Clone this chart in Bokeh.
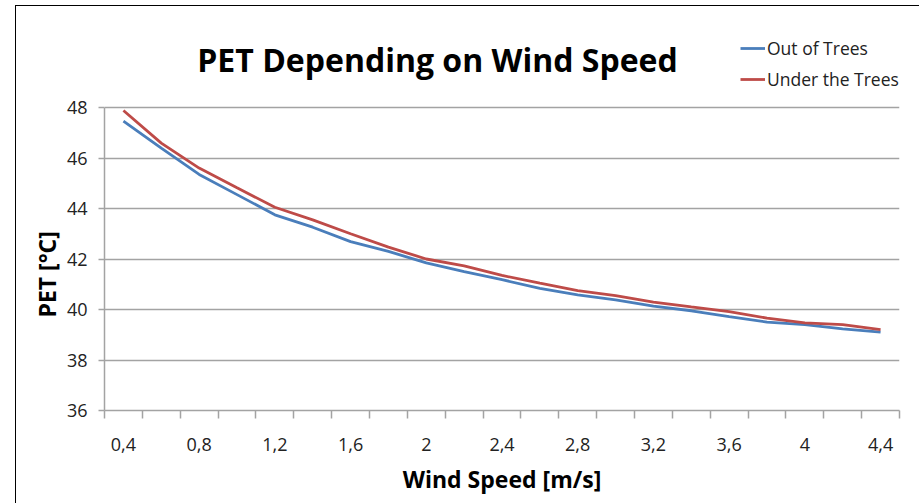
from bokeh.plotting import figure
from bokeh.models import Range1d, FixedTicker, Legend, LegendItem, Label, Title
from bokeh.embed import file_html
from bokeh.resources import INLINE

# ---- data ----
wind_speed = [0.4, 0.6, 0.8, 1.0, 1.2, 1.4, 1.6, 1.8, 2.0, 2.2, 2.4,
              2.6, 2.8, 3.0, 3.2, 3.4, 3.6, 3.8, 4.0, 4.2, 4.4]
out_of_trees = [47.46, 46.39, 45.35, 44.55, 43.75, 43.26, 42.69, 42.30, 41.85, 41.50, 41.18,
                40.84, 40.58, 40.38, 40.13, 39.95, 39.72, 39.50, 39.40, 39.23, 39.10]
under_trees = [47.88, 46.59, 45.60, 44.82, 44.05, 43.55, 43.00, 42.47, 42.00, 41.73, 41.35,
               41.04, 40.75, 40.55, 40.29, 40.10, 39.92, 39.66, 39.47, 39.40, 39.20]
x_tick_values = [0.4, 0.8, 1.2, 1.6, 2.0, 2.4, 2.8, 3.2, 3.6, 4.0, 4.4]
x_tick_labels = ["0,4", "0,8", "1,2", "1,6", "2", "2,4", "2,8", "3,2", "3,6", "4", "4,4"]
y_tick_values = [36, 38, 40, 42, 44, 46, 48]
series_names = ["Out of Trees", "Under the Trees"]
title_text = "PET Depending on Wind Speed"
x_title = "Wind Speed [m/s]"
y_title = "PET  [°C]"

FONT = "Open Sans"
BLUE = "#4a7ebb"
RED = "#be4b48"
GRID = "#a3a3a3"

half_step = (wind_speed[1] - wind_speed[0]) / 2
edges = [w - half_step for w in wind_speed] + [wind_speed[-1] + half_step]

# frame: axis part (36..48) is 303 px tall; frame extends higher to hold legend/title
y_min, y_max = y_tick_values[0], y_tick_values[-1]
frame_h = 376
axis_h = 303
y_top = y_min + (y_max - y_min) * frame_h / axis_h

p = figure(width=904, height=498, output_backend="svg", toolbar_location=None,
           x_range=Range1d(edges[0], edges[-1]), y_range=Range1d(y_min, y_top),
           min_border_left=88, min_border_right=21, min_border_top=28, min_border_bottom=94)
p.margin = (5, 0, 0, 15)
p.styles = {"border-top": "1px solid black", "border-left": "1px solid black"}
p.background_fill_color = "white"
p.border_fill_color = "white"
p.outline_line_color = None

# lines
r1 = p.line(wind_speed, out_of_trees, line_color=BLUE, line_width=2.8)
r2 = p.line(wind_speed, under_trees, line_color=RED, line_width=2.8)

# title (inside extended frame)
title = Label(x=333, y=351, x_units="screen", y_units="screen", text=title_text,
              text_font=FONT, text_font_style="bold", text_font_size="32px",
              text_color="black", text_align="center", text_baseline="alphabetic")
p.add_layout(title)

# x axis
xa = p.xaxis[0]
xa.ticker = FixedTicker(ticks=x_tick_values, minor_ticks=edges)
xa.major_label_overrides = {v: l for v, l in zip(x_tick_values, x_tick_labels)}
xa.major_tick_out = 0
xa.major_tick_in = 0
xa.minor_tick_out = 8
xa.minor_tick_in = 0
xa.minor_tick_line_color = GRID
xa.minor_tick_line_width = 1.5
xa.axis_line_color = GRID
xa.axis_line_width = 1.5
xa.major_label_text_font = FONT
xa.major_label_text_font_size = "18px"
xa.major_label_text_color = "#222222"
xa.major_label_standoff = 19
xa.axis_label = x_title
xa.axis_label_text_font = FONT
xa.axis_label_text_font_style = "bold"
xa.axis_label_text_font_size = "23px"
xa.axis_label_text_color = "black"
xa.axis_label_standoff = 9

# y axis
ya = p.yaxis[0]
ya.ticker = FixedTicker(ticks=y_tick_values, minor_ticks=[])
ya.bounds = (y_min, y_max)
ya.major_tick_out = 6
ya.major_tick_in = 0
ya.major_tick_line_color = GRID
ya.major_tick_line_width = 1.5
ya.axis_line_color = GRID
ya.axis_line_width = 1.5
ya.major_label_text_font = FONT
ya.major_label_text_font_size = "18px"
ya.major_label_text_color = "#222222"
ya.major_label_standoff = 11

# y axis title as a side-panel title so it can sit where the reference has it
y_label = Title(text=y_title, align="left", offset=93, standoff=2,
                text_font=FONT, text_font_style="bold", text_font_size="23px",
                text_color="black")
p.add_layout(y_label, "left")

p.xgrid.grid_line_color = None
p.ygrid.grid_line_color = GRID
p.ygrid.grid_line_width = 1.5

legend = Legend(items=[LegendItem(label=series_names[0], renderers=[r1]),
                       LegendItem(label=series_names[1], renderers=[r2])],
                location=(636, 319))
legend.label_text_font = FONT
legend.label_text_font_size = "17.5px"
legend.label_text_color = "#222222"
legend.glyph_width = 25
legend.glyph_height = 20
legend.label_height = 20
legend.label_standoff = 2
legend.spacing = 7
legend.padding = 0
legend.margin = 0
legend.border_line_color = None
legend.background_fill_alpha = 0
p.add_layout(legend, "center")

open("out.html", "w").write(file_html(p, INLINE))
